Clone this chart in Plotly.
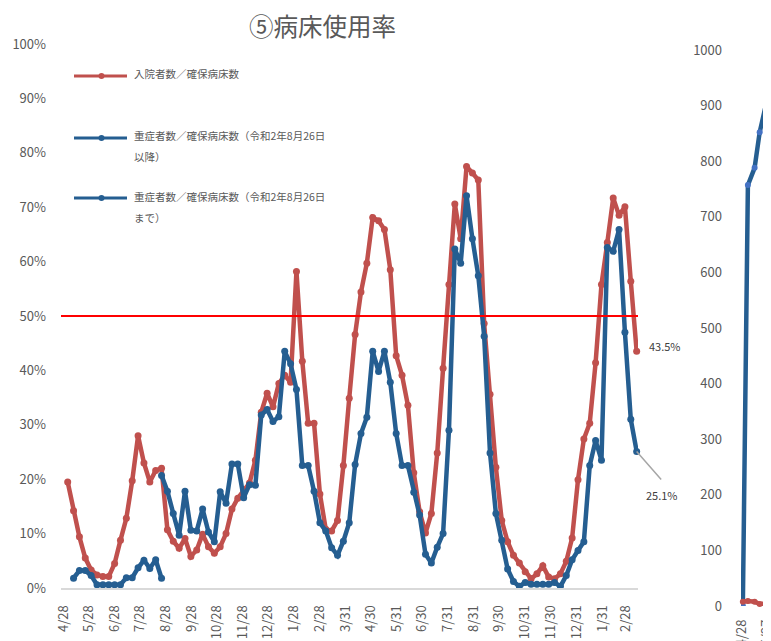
import plotly.graph_objects as go
import pandas as pd

# the page body keeps an 8px margin, so the figure is drawn 8px in from the corner
PAGE_W, PAGE_H, BODY = 771, 641, 8
W, H = PAGE_W - BODY, PAGE_H - BODY

# ---------------- data ----------------
# weekly observation dates (Sundays) 2020-05-03 .. 2022-03-13
week_dates = pd.date_range("2020-05-03", periods=98, freq="7D")

# 入院者数／確保病床数 (%)
inpatient_rate = [
    19.5, 14.2, 9.4, 5.5, 3.3, 2.4, 2.1, 2.1, 4.5, 8.8,
    12.8, 19.7, 28.0, 23.0, 19.5, 21.6, 22.0, 10.7, 8.6, 7.3,
    9.1, 5.8, 7.0, 9.9, 7.6, 6.4, 7.6, 10.0, 14.5, 16.5,
    18.0, 19.3, 23.5, 32.3, 35.8, 33.3, 37.6, 39.1, 37.8, 58.2,
    41.7, 30.3, 30.3, 17.3, 10.8, 10.5, 12.4, 22.5, 34.9, 46.6,
    54.4, 59.7, 68.1, 67.5, 65.9, 58.5, 42.7, 39.1, 33.6, 21.2,
    14.0, 10.1, 13.7, 24.8, 40.4, 55.8, 70.6, 64.2, 77.5, 76.3,
    75.0, 48.6, 35.6, 22.2, 12.4, 8.5, 6.0, 4.6, 3.0, 1.7,
    2.6, 4.1, 2.0, 1.7, 2.6, 4.9, 9.2, 19.9, 27.4, 30.3,
    41.4, 55.8, 63.5, 71.7, 68.5, 70.1, 56.4, 43.5,
]

# 重症者数／確保病床数（令和2年8月26日まで） weeks 1..16
severe_until = [1.8, 3.2, 3.2, 2.3, 0.6, 0.6, 0.6, 0.6, 0.6, 1.9,
                1.9, 3.7, 5.1, 3.6, 5.2, 1.8]

# 重症者数／確保病床数（令和2年8月26日以降） weeks 16..97
severe_after = [
    20.7, 17.8, 13.7, 9.7, 17.8, 10.6, 10.5, 14.5, 10.3, 8.5,
    17.7, 15.6, 22.8, 22.8, 16.6, 19.0, 18.9, 31.8, 32.8, 30.6,
    31.5, 43.5, 41.2, 36.5, 22.5, 22.5, 17.8, 12.0, 10.5, 7.4,
    6.0, 8.6, 12.0, 22.7, 28.4, 31.4, 43.5, 39.8, 43.5, 37.8,
    28.4, 22.5, 22.5, 17.6, 13.4, 6.2, 4.6, 7.5, 10.0, 29.0,
    62.3, 59.7, 72.1, 64.2, 57.4, 46.3, 24.8, 13.7, 8.8, 3.5,
    1.2, 0.3, 1.0, 0.7, 0.7, 0.7, 0.7, 1.0, 0.3, 2.3,
    5.2, 6.9, 8.5, 22.5, 27.1, 23.5, 62.6, 61.9, 65.9, 47.0,
    31.0, 25.1,
]
until_dates = week_dates[1:17]
after_dates = week_dates[16:]

threshold = 50

tick_dates = ["2020-04-28", "2020-05-28", "2020-06-28", "2020-07-28", "2020-08-28",
              "2020-09-28", "2020-10-28", "2020-11-28", "2020-12-28", "2021-01-28",
              "2021-02-28", "2021-03-31", "2021-04-30", "2021-05-31", "2021-06-30",
              "2021-07-31", "2021-08-31", "2021-09-30", "2021-10-31", "2021-11-30",
              "2021-12-31", "2022-01-31", "2022-02-28"]
tick_labels = ["4/28", "5/28", "6/28", "7/28", "8/28", "9/28", "10/28", "11/28",
               "12/28", "1/28", "2/28", "3/31", "4/30", "5/31", "6/30", "7/31",
               "8/31", "9/30", "10/31", "11/30", "12/31", "1/31", "2/28"]
y_ticks = [0, 10, 20, 30, 40, 50, 60, 70, 80, 90, 100]
y_tick_labels = ["0%", "10%", "20%", "30%", "40%", "50%", "60%", "70%", "80%", "90%", "100%"]

legend_names = ["入院者数／確保病床数",
                "重症者数／確保病床数（令和2年8月26日<br>以降）",
                "重症者数／確保病床数（令和2年8月26日<br>まで）"]

# neighbouring (cut-off) chart on the right
sub_dates = ["2020-04-29", "2020-05-05", "2020-05-13", "2020-05-19", "2020-05-27", "2020-06-02"]
sub_beds = [0, 757, 788, 852, 905, 1055]
sub_inpatients = [7.7, 8.8, 7.7, 3.6, 4.8, 5.0]
sub_tick_dates = ["2020-04-28", "2020-05-27"]
sub_tick_labels = ["4/28", "5/27"]
sub_y_ticks = [0, 100, 200, 300, 400, 500, 600, 700, 800, 900, 1000]

# ---------------- styling ----------------
RED = "#C0504D"
BLUE = "#255E91"
LIGHTBLUE = "#4472C4"
GRAY = "#595959"
FONT = "Noto Sans CJK JP"


def px(x):
    """page pixel x -> paper fraction"""
    return (x - BODY) / W


def py(y):
    """page pixel y -> paper fraction"""
    return 1 - (y - BODY) / H


fig = go.Figure()

fig.add_trace(go.Scatter(x=week_dates, y=inpatient_rate, mode="lines+markers",
                         line=dict(color=RED, width=4.5), marker=dict(color=RED, size=7),
                         name="入院者数／確保病床数", cliponaxis=False))
fig.add_trace(go.Scatter(x=after_dates, y=severe_after, mode="lines+markers",
                         line=dict(color=BLUE, width=4.5), marker=dict(color=BLUE, size=7),
                         name="重症者数／確保病床数（以降）", cliponaxis=False))
fig.add_trace(go.Scatter(x=until_dates, y=severe_until, mode="lines+markers",
                         line=dict(color=BLUE, width=4.5), marker=dict(color=BLUE, size=7),
                         name="重症者数／確保病床数（まで）", cliponaxis=False))

# right chart
fig.add_trace(go.Scatter(x=sub_dates, y=sub_beds, mode="lines+markers", xaxis="x2", yaxis="y2",
                         line=dict(color=BLUE, width=4.5), marker=dict(color=LIGHTBLUE, size=6)))
fig.add_trace(go.Scatter(x=sub_dates, y=sub_inpatients, mode="lines+markers", xaxis="x2", yaxis="y2",
                         line=dict(color=RED, width=4.5), marker=dict(color=RED, size=6),
                         cliponaxis=False))

base = pd.Timestamp("2020-04-28")
x_range = [base - pd.Timedelta(days=2.98), base + pd.Timedelta(days=685.6)]
x2_range = [base - pd.Timedelta(days=1.2), base + pd.Timedelta(days=34.5)]

fig.update_layout(
    template="none",
    width=W, height=H, autosize=False,
    margin=dict(l=0, r=0, t=0, b=0, pad=0),
    paper_bgcolor="white", plot_bgcolor="white",
    showlegend=False,
    font=dict(family=FONT, color=GRAY, size=13),
    xaxis=dict(domain=[px(61), px(638)], type="date", range=x_range, automargin=False,
               tickmode="array", tickvals=tick_dates, ticktext=tick_labels,
               tickangle=-90, showgrid=False, zeroline=False,
               showline=True, linecolor="#D9D9D9", linewidth=2,
               ticks="", ticklabelstandoff=10, tickfont=dict(size=13, color=GRAY)),
    yaxis=dict(domain=[py(588), py(44)], range=[0, 100], tickmode="array", automargin=False,
               tickvals=y_ticks, ticktext=y_tick_labels, showgrid=False, zeroline=False,
               showline=False, ticks="", ticklabelstandoff=14,
               tickfont=dict(size=13, color=GRAY)),
    xaxis2=dict(domain=[px(741), 1.0], anchor="y2", type="date", range=x2_range,
                automargin=False, ticklabeloverflow="allow",
                tickmode="array", tickvals=sub_tick_dates, ticktext=sub_tick_labels,
                tickangle=-90, showgrid=False, zeroline=False, showline=False,
                ticks="", ticklabelstandoff=10, tickfont=dict(size=13, color=GRAY)),
    yaxis2=dict(domain=[py(606), py(50)], anchor="x2", range=[0, 1000], automargin=False,
                tickmode="array", tickvals=sub_y_ticks, showgrid=False,
                zeroline=False, showline=False, ticks="", ticklabelstandoff=18,
                tickfont=dict(size=13, color=GRAY)),
)

shapes = []
# 50% reference line
shapes.append(dict(type="line", xref="x domain", yref="y", x0=0, x1=1,
                   y0=threshold, y1=threshold, line=dict(color="#FF0000", width=2)))

annotations = []
# title
annotations.append(dict(text="⑤病床使用率", xref="paper", yref="paper", x=px(322), y=py(25.5),
                        xanchor="center", yanchor="middle", showarrow=False, borderpad=0,
                        font=dict(size=24.5, color=GRAY, family=FONT)))

# data labels
annotations.append(dict(text=f"{inpatient_rate[-1]:.1f}%", xref="x", yref="y",
                        x=week_dates[-1], y=inpatient_rate[-1], xanchor="left", yanchor="middle",
                        xshift=10, yshift=5, showarrow=False,
                        font=dict(size=11, color="#404040", family=FONT)))
annotations.append(dict(text=f"{severe_after[-1]:.1f}%", xref="x", yref="y",
                        x=after_dates[-1], y=severe_after[-1], xanchor="left", yanchor="middle",
                        xshift=7.5, yshift=-43.5, showarrow=False,
                        font=dict(size=11, color="#404040", family=FONT)))
# leader line from the last severe point towards its label
annotations.append(dict(text=" ", xref="x", yref="y", x=after_dates[-1], y=severe_after[-1],
                        ax=25, ay=28.5, axref="pixel", ayref="pixel", showarrow=True,
                        arrowhead=0, arrowwidth=1.5, arrowcolor="#A6A6A6", standoff=0,
                        startstandoff=0, borderpad=0, font=dict(size=1)))

# manual legend
legend_rows = [(legend_names[0], RED, 76, 74), (legend_names[1], BLUE, 138, 136),
               (legend_names[2], BLUE, 198, 196.5)]
for name, color, ly, ty in legend_rows:
    shapes.append(dict(type="line", xref="paper", yref="paper", x0=px(74), x1=px(127),
                       y0=py(ly), y1=py(ly), line=dict(color=color, width=3)))
    shapes.append(dict(type="circle", xref="paper", yref="paper", xsizemode="pixel",
                       ysizemode="pixel", xanchor=px(101.5), yanchor=py(ly),
                       x0=-3, x1=3, y0=-3, y1=3, fillcolor=color, line=dict(width=0)))
    for i, line_text in enumerate(name.split("<br>")):
        annotations.append(dict(text=line_text, xref="paper", yref="paper",
                                x=px(132), y=py(ty + 20.5 * i), xanchor="left",
                                yanchor="middle", showarrow=False,
                                font=dict(size=10.5, color=GRAY, family=FONT)))

fig.update_layout(shapes=shapes, annotations=annotations)

fig.write_html("out.html")
